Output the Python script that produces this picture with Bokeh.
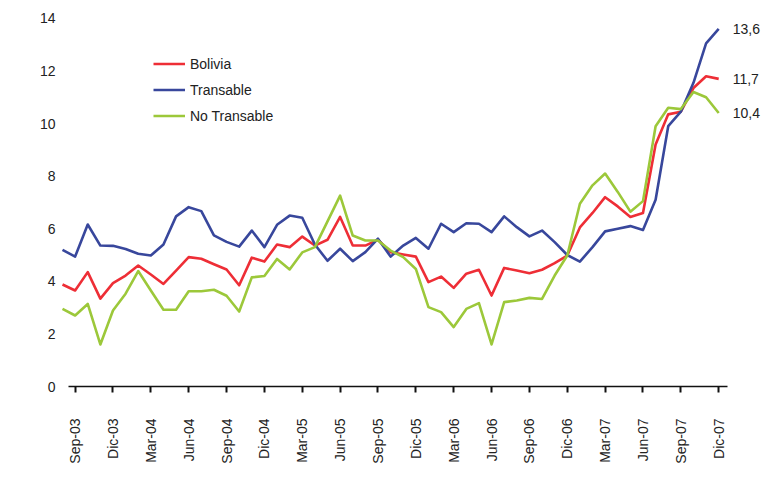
import math

from bokeh.core.properties import value
from bokeh.embed import file_html
from bokeh.models import ColumnDataSource, FixedTicker
from bokeh.plotting import figure
from bokeh.resources import INLINE

# Monthly periods, Ago-03 .. Dic-07
meses = ["Ene", "Feb", "Mar", "Abr", "May", "Jun",
         "Jul", "Ago", "Sep", "Oct", "Nov", "Dic"]
periodos = []
for anio in range(2003, 2008):
    for m in range(12):
        if anio == 2003 and m < 7:
            continue
        periodos.append(f"{meses[m]}-{anio % 100:02d}")

bolivia = [3.88, 3.65, 4.35, 3.34, 3.93, 4.22, 4.60, 4.26, 3.90, 4.41,
           4.92, 4.86, 4.65, 4.45, 3.85, 4.90, 4.75, 5.40, 5.30, 5.70,
           5.36, 5.58, 6.45, 5.36, 5.36, 5.58, 5.11, 5.02, 4.94, 3.97,
           4.18, 3.75, 4.29, 4.44, 3.46, 4.51, 4.41, 4.31, 4.44, 4.69,
           4.98, 6.05, 6.60, 7.20, 6.85, 6.45, 6.60, 9.20, 10.35, 10.45,
           11.35, 11.80, 11.7]

transable = [5.20, 4.94, 6.16, 5.36, 5.35, 5.23, 5.05, 4.98, 5.40, 6.47,
             6.82, 6.67, 5.75, 5.50, 5.32, 5.93, 5.30, 6.15, 6.50, 6.42,
             5.40, 4.78, 5.24, 4.77, 5.11, 5.62, 4.94, 5.36, 5.65, 5.24,
             6.19, 5.87, 6.21, 6.19, 5.87, 6.47, 6.06, 5.71, 5.93, 5.49,
             5.00, 4.75, 5.30, 5.90, 6.00, 6.10, 5.95, 7.10, 9.90, 10.45,
             11.55, 13.05, 13.6]

no_transable = [2.95, 2.70, 3.14, 1.60, 2.89, 3.53, 4.39, 3.65, 2.92, 2.92,
                3.62, 3.62, 3.68, 3.45, 2.85, 4.15, 4.20, 4.85, 4.45, 5.10,
                5.30, 6.28, 7.26, 5.74, 5.55, 5.55, 5.17, 4.92, 4.47, 3.02,
                2.83, 2.26, 2.95, 3.17, 1.60, 3.21, 3.27, 3.37, 3.33, 4.22,
                4.98, 6.95, 7.65, 8.10, 7.40, 6.65, 7.05, 9.90, 10.60, 10.55,
                11.20, 11.00, 10.4]

tick_labels = ["Sep-03", "Dic-03", "Mar-04", "Jun-04", "Sep-04", "Dic-04",
               "Mar-05", "Jun-05", "Sep-05", "Dic-05", "Mar-06", "Jun-06",
               "Sep-06", "Dic-06", "Mar-07", "Jun-07", "Sep-07", "Dic-07"]
y_ticks = [0, 2, 4, 6, 8, 10, 12, 14]

x = list(range(len(periodos)))
tick_pos = [periodos.index(t) for t in tick_labels]

FONT = "Liberation Sans"
RED = "#EE2E36"
BLUE = "#38479C"
GREEN = "#9CC83A"

p = figure(width=763, height=477,
           x_range=(-0.317, 55.55), y_range=(0, 14.68),
           output_backend="svg", toolbar_location=None,
           min_border_left=58, min_border_right=0,
           min_border_top=0, min_border_bottom=91)

p.background_fill_color = "white"
p.border_fill_color = "white"
p.outline_line_color = None
p.xgrid.visible = False
p.ygrid.visible = False

series = [("Bolivia", bolivia, RED),
          ("Transable", transable, BLUE),
          ("No Transable", no_transable, GREEN)]

for name, vals, color in series:
    src = ColumnDataSource(dict(x=x, y=vals))
    p.line("x", "y", source=src, line_color=color, line_width=2.6,
           line_join="round", legend_label=name)

# Final values printed at the right end of each line
ends = ColumnDataSource(dict(
    x=[x[-1]] * 3,
    y=[transable[-1], bolivia[-1], no_transable[-1]],
    t=[f"{v:.1f}".replace(".", ",") for v in
       (transable[-1], bolivia[-1], no_transable[-1])],
))
p.text("x", "y", text="t", source=ends, x_offset=14,
       text_align="left", text_baseline="middle",
       text_font=value(FONT), text_font_size="14px", text_color="#222222")

# Axes
xa = p.xaxis[0]
xa.ticker = FixedTicker(ticks=tick_pos)
xa.major_label_overrides = {pos: lab for pos, lab in zip(tick_pos, tick_labels)}
xa.major_label_orientation = math.pi / 2
xa.major_label_text_font = FONT
xa.major_label_text_font_size = "14px"
xa.major_label_text_color = "#222222"
xa.major_label_standoff = 26
xa.axis_line_color = "#111111"
xa.axis_line_width = 1.6
xa.major_tick_line_color = "#111111"
xa.major_tick_line_width = 2
xa.major_tick_in = 0
xa.major_tick_out = 6
xa.minor_tick_line_color = None
xa.bounds = (0.45, 52.7)

ya = p.yaxis[0]
ya.ticker = FixedTicker(ticks=y_ticks)
ya.major_label_text_font = FONT
ya.major_label_text_font_size = "14px"
ya.major_label_text_color = "#222222"
ya.axis_line_color = None
ya.major_tick_line_color = None
ya.minor_tick_line_color = None
ya.major_tick_in = 0
ya.major_tick_out = 0
ya.major_label_standoff = 3

# Legend
lg = p.legend[0]
lg.location = (95, 260)
lg.orientation = "vertical"
lg.padding = 0
lg.margin = 0
lg.spacing = 5
lg.glyph_width = 32
lg.glyph_height = 21
lg.label_height = 21
lg.label_standoff = 5
lg.label_text_font = FONT
lg.label_text_font_size = "14px"
lg.label_text_color = "#222222"
lg.border_line_color = None
lg.background_fill_alpha = 0

open("out.html", "w").write(file_html(p, INLINE))
